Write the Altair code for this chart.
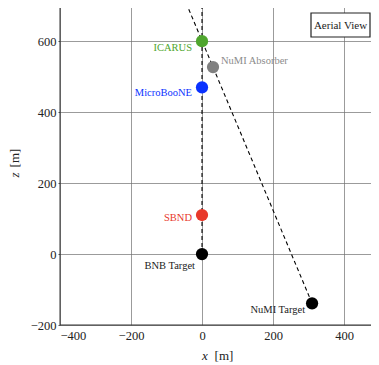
import altair as alt
import pandas as pd

# ---- data ----
names = ["BNB Target", "SBND", "MicroBooNE", "ICARUS", "NuMI Absorber", "NuMI Target"]
xs = [0, 0, 0, 0, 31, 310]
zs = [0, 110, 470, 600, 527, -139]
colors = ["#000000", "#e8392b", "#0a32ff", "#4fa62e", "#808080", "#000000"]
label_colors = ["#222222", "#e8392b", "#0a32ff", "#4fa62e", "#8c8c8c", "#222222"]

x_domain = [-400, 476]
z_domain = [-200, 702]
grid_vals = list(range(-400, 401, 100))
zgrid_vals = list(range(-200, 601, 100))

FONT = "Liberation Serif"

pts = pd.DataFrame({"name": names, "x": xs, "z": zs, "color": colors, "lcolor": label_colors})

# BNB beamline: from BNB target straight up (x = 0)
bnb_line = pd.DataFrame({"x": [xs[0], xs[0]], "z": [zs[0], z_domain[1] + 50], "o": [0, 1]})
# NuMI beamline: target -> absorber, continued to top of plot
tx, tz = xs[5], zs[5]
ax_, az = xs[4], zs[4]
slope = (ax_ - tx) / (az - tz)
top_x = tx + slope * (z_domain[1] + 50 - tz)
numi_line = pd.DataFrame({"x": [tx, top_x], "z": [tz, z_domain[1] + 50], "o": [0, 1]})

W, H = 311, 320

xscale = alt.Scale(domain=x_domain, nice=False, zero=False)
zscale = alt.Scale(domain=z_domain, nice=False, zero=False)

xaxis = alt.Axis(values=grid_vals, labelExpr="datum.value % 200 == 0 ? datum.label : ''",
                 title=None, grid=True, gridColor="#707070", gridWidth=0.7,
                 ticks=False, domain=False, labelFont=FONT, labelFontSize=12.5,
                 labelColor="#222222", labelPadding=4, format="d")
zaxis = alt.Axis(values=zgrid_vals, labelExpr="datum.value % 200 == 0 ? datum.label : ''",
                 title=None, grid=True, gridColor="#707070", gridWidth=0.7,
                 ticks=True, tickSize=2, tickColor="#555555", domain=False,
                 labelFont=FONT, labelFontSize=12.5, labelColor="#222222",
                 labelPadding=2, format="d")

base = alt.Chart(pts)

lines = alt.layer(
    alt.Chart(bnb_line).mark_line(color="black", strokeDash=[4, 3], strokeWidth=1.1, clip=True).encode(
        x=alt.X("x:Q", scale=xscale, axis=xaxis), y=alt.Y("z:Q", scale=zscale, axis=zaxis), order="o:Q"),
    alt.Chart(numi_line).mark_line(color="black", strokeDash=[4, 3], strokeWidth=1.1, clip=True).encode(
        x=alt.X("x:Q", scale=xscale), y=alt.Y("z:Q", scale=zscale), order="o:Q"),
)

points = base.mark_circle(size=150, opacity=1).encode(
    x=alt.X("x:Q", scale=xscale), y=alt.Y("z:Q", scale=zscale),
    color=alt.Color("color:N", scale=None))

offsets = {
    "ICARUS": ("right", -10, 7),
    "MicroBooNE": ("right", -10, 6),
    "SBND": ("right", -10, 3),
    "BNB Target": ("right", -7, 12),
    "NuMI Target": ("right", -7, 7),
    "NuMI Absorber": ("left", 8, -6),
}
labels = []
for n, (al, dx, dy) in offsets.items():
    labels.append(
        base.transform_filter(alt.datum.name == n).mark_text(
            align=al, baseline="middle", dx=dx, dy=dy, font=FONT, fontSize=10.5).encode(
            x=alt.X("x:Q", scale=xscale), y=alt.Y("z:Q", scale=zscale),
            text="name:N", color=alt.Color("lcolor:N", scale=None)))

one = pd.DataFrame({"a": [0]})
frame = alt.Chart(one).mark_rect(fill=None, stroke="#333333", strokeWidth=1).encode(
    x=alt.value(0), x2=alt.value(W + 20), y=alt.value(0), y2=alt.value(H))

box = alt.Chart(one).mark_rect(fill="white", stroke="#222222", strokeWidth=1.2).encode(
    x=alt.value(251), x2=alt.value(310), y=alt.value(8), y2=alt.value(32))
box_text = alt.Chart(one).mark_text(font=FONT, fontSize=11, color="#222222", align="center", baseline="middle").encode(
    x=alt.value(280.5), y=alt.value(20.5), text=alt.value("Aerial View"))

xt1 = alt.Chart(one).mark_text(font=FONT, fontSize=13, fontStyle="italic", align="center", baseline="middle", color="#222222").encode(
    x=alt.value(145), y=alt.value(351), text=alt.value("x"))
xt2 = alt.Chart(one).mark_text(font=FONT, fontSize=13, align="center", baseline="middle", color="#222222").encode(
    x=alt.value(164), y=alt.value(351), text=alt.value("[m]"))
yt1 = alt.Chart(one).mark_text(font=FONT, fontSize=13, fontStyle="italic", angle=270, align="center", baseline="middle", color="#222222").encode(
    x=alt.value(-45), y=alt.value(170), text=alt.value("z"))
yt2 = alt.Chart(one).mark_text(font=FONT, fontSize=13, angle=270, align="center", baseline="middle", color="#222222").encode(
    x=alt.value(-45), y=alt.value(153), text=alt.value("[m]"))

chart = alt.layer(lines, points, *labels, frame, box, box_text, xt1, xt2, yt1, yt2).properties(
    width=W, height=H,
    autosize=alt.AutoSizeParams(type="none"),
    padding={"left": 52, "top": -3, "right": 0, "bottom": 40},
).configure_view(stroke=None).configure(background="white")

chart.save("out.html", embed_options={"renderer": "svg", "actions": False})
